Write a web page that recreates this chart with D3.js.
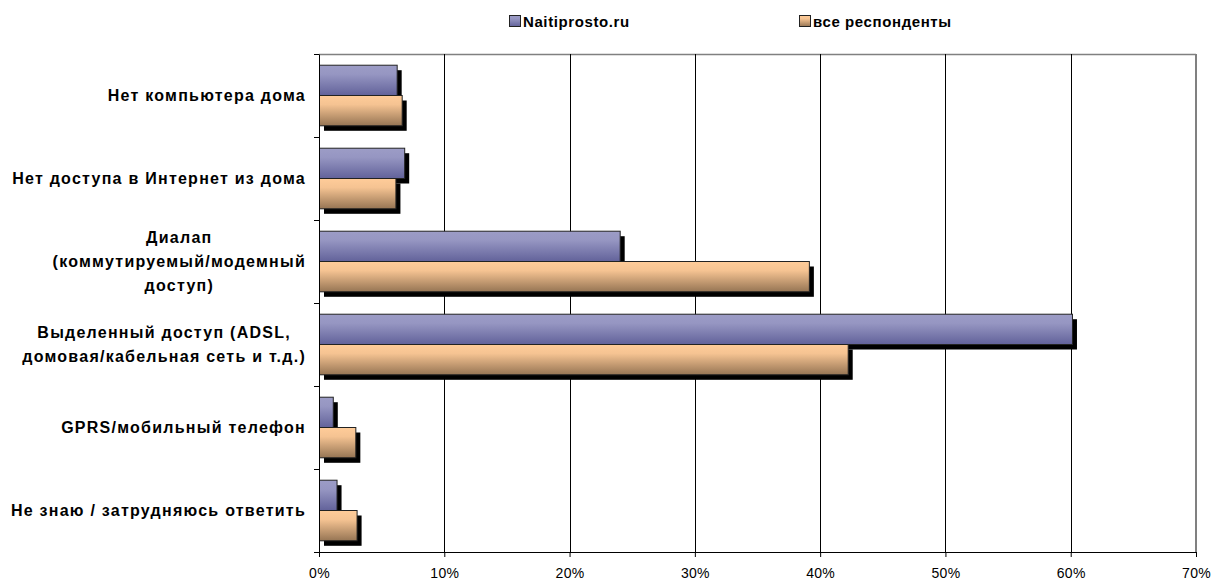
<!DOCTYPE html>
<html><head><meta charset="utf-8">
<script src="https://cdn.jsdelivr.net/npm/d3@7"></script>
<style>body{margin:0;background:#fff}svg{display:block}</style>
</head><body>
<svg id="c" width="1213" height="581"></svg>
<script>
const categories = [
  ["Нет компьютера дома"],
  ["Нет доступа в Интернет из дома"],
  ["Диалап", "(коммутируемый/модемный", "доступ)"],
  ["Выделенный доступ (ADSL,", "домовая/кабельная сеть и т.д.)"],
  ["GPRS/мобильный телефон"],
  ["Не знаю / затрудняюсь ответить"]
];
const seriesNames = ["Naitiprosto.ru", "все респонденты"];
const naitiprosto = [6.2, 6.8, 24.0, 60.1, 1.1, 1.4];
const allRespondents = [6.6, 6.1, 39.1, 42.2, 2.9, 3.0];
const xTicks = [0, 10, 20, 30, 40, 50, 60, 70];

const svg = d3.select("#c");
const FONT = "Liberation Sans, Arial, sans-serif";
const L = 319, R = 1196, T = 54, B = 552;
const x = d3.scaleLinear().domain([0, 70]).range([L, R]);
const y = d3.scaleBand().domain(d3.range(categories.length)).range([T, B]).paddingInner(0).paddingOuter(0);
const inner = d3.scaleBand().domain([0, 1]).range([0, y.bandwidth()]).paddingOuter(0.37).paddingInner(0);

const defs = svg.append("defs");
const grads = [["#9c9cc6", "#62629a"], ["#ffcc99", "#967554"]];
grads.forEach((g, i) => {
  const lg = defs.append("linearGradient").attr("id", "g" + i).attr("x1", 0).attr("y1", 0).attr("x2", 0).attr("y2", 1);
  lg.append("stop").attr("offset", "0%").attr("stop-color", g[0]);
  lg.append("stop").attr("offset", "30%").attr("stop-color", d3.interpolateRgb(g[0], g[1])(0.1));
  lg.append("stop").attr("offset", "100%").attr("stop-color", g[1]);
});

svg.append("line").attr("x1", L).attr("x2", R).attr("y1", T + 0.5).attr("y2", T + 0.5).attr("stroke", "#808080").attr("stroke-width", 1.5);
svg.append("line").attr("x1", R).attr("x2", R).attr("y1", T).attr("y2", B).attr("stroke", "#808080").attr("stroke-width", 2);

svg.append("g").selectAll("line").data(xTicks.filter(t => t > 0 && t < 70)).join("line")
  .attr("x1", d => Math.round(x(d)) + 0.5).attr("x2", d => Math.round(x(d)) + 0.5)
  .attr("y1", T).attr("y2", B).attr("stroke", "#000").attr("stroke-width", 1);

const data = [naitiprosto, allRespondents];
const shadow = 5;
data.forEach((vals, s) => {
  svg.append("g").selectAll("rect").data(vals).join("rect")
    .attr("x", x(0) + shadow).attr("y", (d, i) => y(i) + inner(s) + shadow)
    .attr("width", d => x(d) - x(0)).attr("height", inner.bandwidth()).attr("fill", "#000");
});
data.forEach((vals, s) => {
  svg.append("g").selectAll("rect").data(vals).join("rect")
    .attr("x", x(0) + 0.5).attr("y", (d, i) => y(i) + inner(s))
    .attr("width", d => x(d) - x(0)).attr("height", inner.bandwidth())
    .attr("fill", "url(#g" + s + ")").attr("stroke", "#222").attr("stroke-width", 1);
});

const xAxis = d3.axisBottom(x).tickValues(xTicks).tickFormat(d => d + "%").tickSize(5).tickSizeOuter(0);
const gx = svg.append("g").attr("transform", `translate(0,${B})`).call(xAxis);
gx.select(".domain").attr("stroke", "#000");
gx.selectAll(".tick line").attr("stroke", "#000");
gx.selectAll("text").attr("font-family", FONT).attr("font-size", 14).attr("fill", "#000")
  .attr("y", 21).attr("dy", 0).attr("dominant-baseline", "central").attr("letter-spacing", 0.3);

const yAxis = d3.axisLeft(d3.scaleLinear().domain([0, 6]).range([B, T])).ticks(6).tickSize(5).tickFormat("").tickSizeOuter(0);
const gy = svg.append("g").attr("transform", `translate(${L},0)`).call(yAxis);
gy.select(".domain").attr("stroke", "#000");
gy.selectAll(".tick line").attr("stroke", "#000");

const labelRight = 306, lh = 24;
categories.forEach((lines, i) => {
  const cy = y(i) + y.bandwidth() / 2;
  const g = svg.append("g");
  const texts = lines.map((ln, k) => g.append("text").text(ln)
    .attr("font-family", FONT).attr("font-weight", "bold").attr("font-size", 16)
    .attr("letter-spacing", 1.25)
    .attr("fill", "#000").attr("dominant-baseline", "central")
    .attr("y", cy + (k - (lines.length - 1) / 2) * lh));
  const maxW = d3.max(texts, t => t.node().getComputedTextLength());
  texts.forEach(t => t.attr("text-anchor", "middle").attr("x", labelRight - maxW / 2));
});

const legX = [509, 799];
seriesNames.forEach((n, s) => {
  svg.append("rect").attr("x", legX[s] + 0.5).attr("y", 15.5).attr("width", 11).attr("height", 11)
    .attr("fill", "url(#g" + s + ")").attr("stroke", "#222");
  svg.append("text").text(n).attr("x", legX[s] + 14).attr("y", 21)
    .attr("font-family", FONT).attr("font-weight", "bold").attr("font-size", 15).attr("letter-spacing", 0.6)
    .attr("dominant-baseline", "central").attr("fill", "#000");
});
</script>
</body></html>
